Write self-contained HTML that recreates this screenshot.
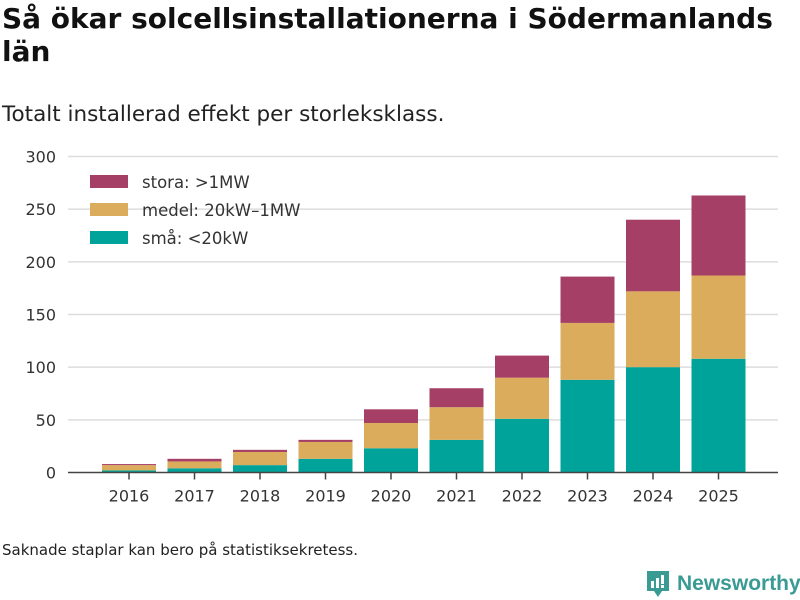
<!DOCTYPE html>
<html><head><meta charset="utf-8"><style>
body{margin:0;width:800px;height:600px;background:#fff;font-family:"DejaVu Sans","Liberation Sans",sans-serif;overflow:hidden;position:relative}
h1{position:absolute;left:2px;top:2px;margin:0;font-size:28px;line-height:33px;font-weight:bold;color:#111;width:798px}
.sub{position:absolute;left:2px;top:102px;font-size:21.5px;color:#222}
.note{position:absolute;left:2px;top:541px;font-size:15px;color:#222}
.logo{position:absolute;left:645px;top:569px;display:flex;align-items:center;color:#3a9a94;font-size:21px;font-weight:bold;font-family:"Liberation Sans",sans-serif}
</style></head><body>
<h1>Så ökar solcellsinstallationerna i Södermanlands län</h1>
<div class="sub">Totalt installerad effekt per storleksklass.</div>
<svg id="chart" width="800" height="600" style="position:absolute;left:0;top:0"></svg>
<div class="note">Saknade staplar kan bero på statistiksekretess.</div>
<div class="logo"><svg width="26" height="30" viewBox="0 0 26 30"><path d="M2 2h22v20h-7l-4 6-4-6H2z" fill="#3a9a94"/><rect x="6" y="12" width="3" height="7" fill="#fff"/><rect x="11" y="9" width="3" height="10" fill="#fff"/><rect x="16" y="6" width="3" height="9" fill="#fff"/><rect x="16" y="16" width="3" height="3" fill="#fff"/></svg><span style="margin-left:6px">Newsworthy</span></div>
<script>
const years=["2016","2017","2018","2019","2020","2021","2022","2023","2024","2025"];
const small=[2,4,7,13,23,31,51,88,100,108];
const medium=[5,6.5,12.5,16,24,31,39,54,72,79];
const large=[1,2.5,2,2,13,18,21,44,68,76];
const yTicks=[0,50,100,150,200,250,300];
const seriesNames=["stora: >1MW","medel: 20kW–1MW","små: <20kW"];
const NS="http://www.w3.org/2000/svg";
const svg=document.getElementById('chart');
const y0=472.5,yScale=316/300;
const y=v=>y0-v*yScale;
const x=i=>129+i*65.5;
const bw=54;
function el(t,a,p){const e=document.createElementNS(NS,t);for(const k in a)e.setAttribute(k,a[k]);(p||svg).appendChild(e);return e;}
yTicks.forEach(t=>{
 if(t>0){const g=el('line',{x1:68,x2:778,y1:y(t),y2:y(t),stroke:'#ddd','stroke-width':1.5});
 
 }
 const l=el('text',{x:56,y:y(t)+6,'text-anchor':'end','font-size':16,fill:'#333','font-family':'DejaVu Sans, sans-serif'});
 l.textContent=t;
 
 
});
const colors=['#a63f65','#dbac5b','#00a39a'];
years.forEach((yr,i)=>{
 const segs=[[0,small[i],colors[2],'small'],[small[i],small[i]+medium[i],colors[1],'medium'],[small[i]+medium[i],small[i]+medium[i]+large[i],colors[0],'large']];
 segs.forEach(s=>{
  const r=el('rect',{x:x(i)-bw/2,y:y(s[1]),width:bw,height:Math.max(0,y(s[0])-y(s[1])),fill:s[2]});
  
  
 });
 const tk=el('line',{x1:x(i),x2:x(i),y1:y0,y2:y0+7,stroke:'#444','stroke-width':1.5});
 
 
 const t=el('text',{x:x(i),y:y0+29,'text-anchor':'middle','font-size':16,fill:'#333','font-family':'DejaVu Sans, sans-serif'});
 t.textContent=yr;
 
 
});
const ax=el('line',{x1:68,x2:778,y1:y0,y2:y0,stroke:'#444','stroke-width':1.5});


seriesNames.forEach((n,i)=>{
 const r=el('rect',{x:90,y:175+i*28,width:38,height:13,fill:colors[i]});
 
 
 const t=el('text',{x:142,y:188+i*28,'font-size':16.5,fill:'#333','font-family':'DejaVu Sans, sans-serif'});
 t.textContent=n;
 
 
});
</script>
</body></html>
